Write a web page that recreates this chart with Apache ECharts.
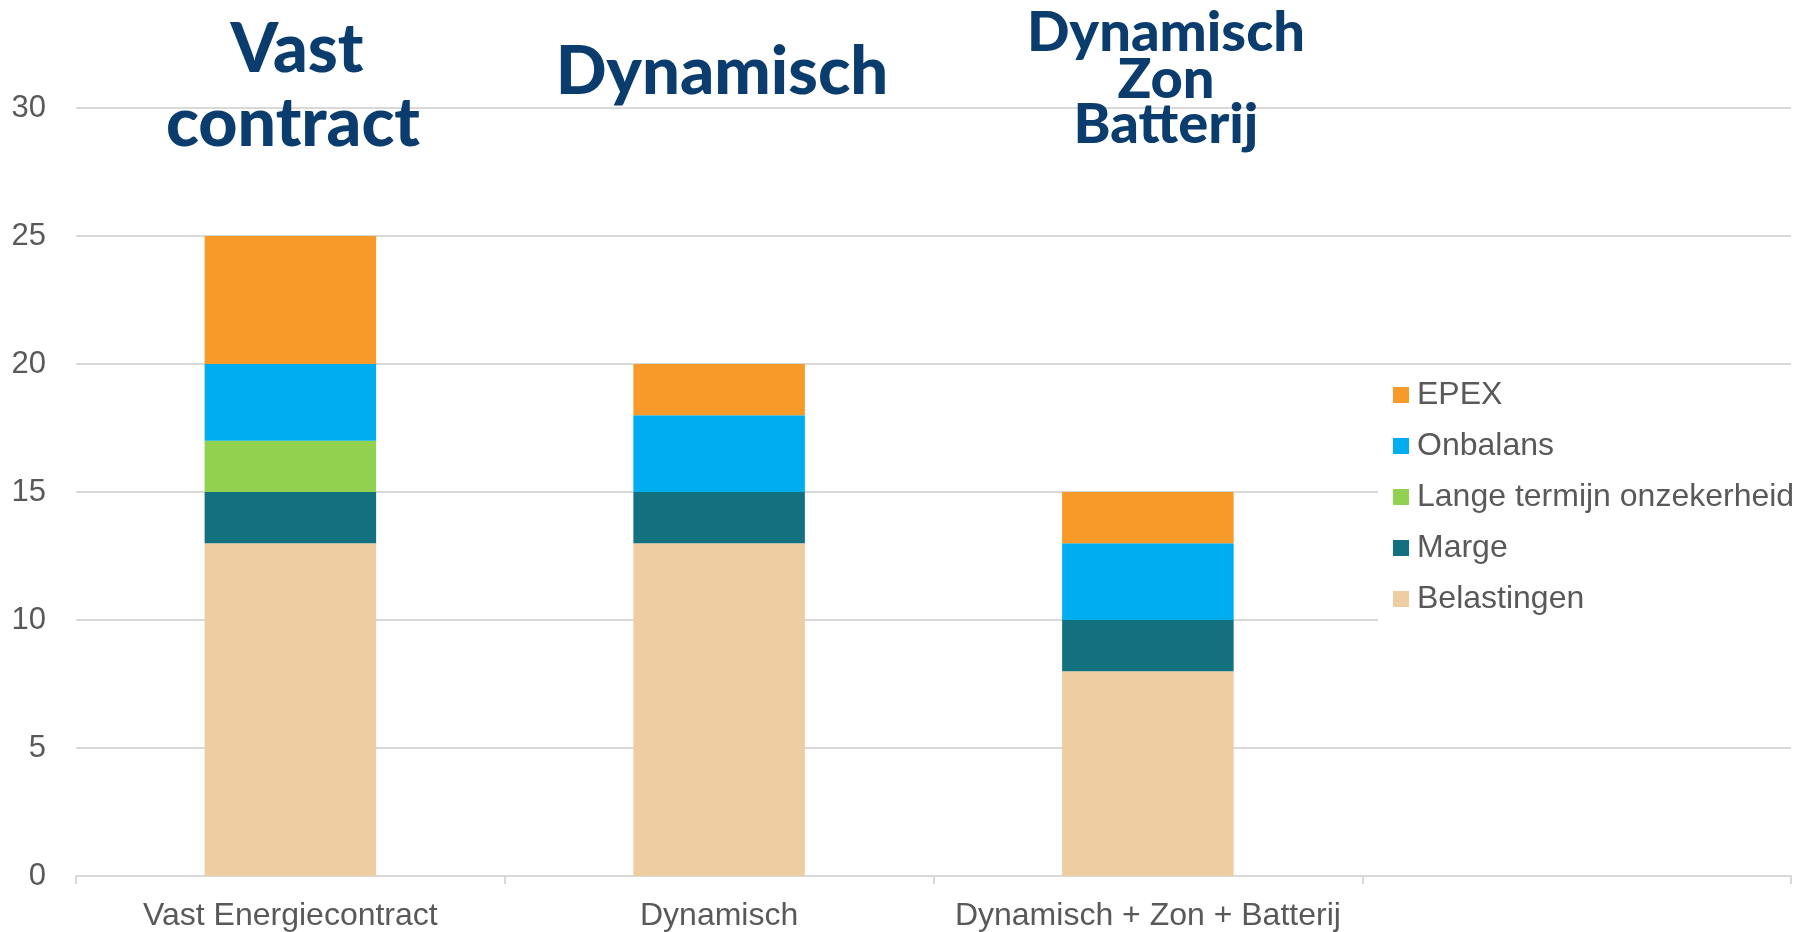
<!DOCTYPE html>
<html>
<head>
<meta charset="utf-8">
<title>Energiecontract vergelijking</title>
<script src="https://cdn.jsdelivr.net/npm/echarts@6/dist/echarts.min.js"></script>
<style>
    html, body { margin: 0; padding: 0; background: #fff; }
    #main { width: 1798px; height: 932px; }
</style>
</head>
<body>
<div id="main"></div>
<script>
    // categorieen (vierde kolom is leeg in het origineel)
    var categories = ['Vast Energiecontract', 'Dynamisch', 'Dynamisch + Zon + Batterij', ''];

    // waarden per component, van onder naar boven gestapeld
    var belastingen = [13, 13, 8, null];
    var marge = [2, 2, 2, null];
    var langeTermijn = [2, 0, 0, null];
    var onbalans = [3, 3, 3, null];
    var epex = [5, 2, 2, null];

    var legendOrder = ['EPEX', 'Onbalans', 'Lange termijn onzekerheid', 'Marge', 'Belastingen'];
    var yTicks = [0, 5, 10, 15, 20, 25, 30];

    var labelColor = '#595959';
    var titleColor = '#0a3d6e';
    var titleFont = '"Lato", "Open Sans", sans-serif';

    var myChart = echarts.init(document.getElementById('main'));

    function bar(name, data, color) {
        return {
            name: name,
            type: 'bar',
            stack: 'totaal',
            data: data,
            barCategoryGap: '60%',
            itemStyle: { color: color },
            emphasis: { disabled: true }
        };
    }

    function bigText(text, x, y, size) {
        return {
            type: 'text',
            x: x,
            y: y,
            z: 10,
            style: {
                text: text,
                fill: titleColor,
                font: '900 ' + size + 'px ' + titleFont,
                textAlign: 'center',
                textVerticalAlign: 'middle'
            }
        };
    }

    var option = {
        animation: false,
        backgroundColor: '#fff',
        textStyle: { fontFamily: '"Liberation Sans", Arial, sans-serif' },
        grid: { left: 76, right: 7, top: 108, bottom: 54, containLabel: false },
        legend: {
            orient: 'vertical',
            left: 1378,
            top: 372,
            padding: [5, 10, 10, 15],
            backgroundColor: '#fff',
            itemWidth: 16,
            itemHeight: 16,
            itemGap: 15,
            icon: 'rect',
            data: legendOrder,
            textStyle: { fontSize: 32, color: labelColor, lineHeight: 36, padding: [0, 0, 0, 3] }
        },
        xAxis: {
            type: 'category',
            data: categories,
            axisLine: { lineStyle: { color: '#d9d9d9', width: 2 } },
            axisTick: { show: true, length: 8, lineStyle: { color: '#d9d9d9', width: 2 } },
            axisLabel: { fontSize: 32, color: labelColor, margin: 24, interval: 0 }
        },
        yAxis: {
            type: 'value',
            min: yTicks[0],
            max: yTicks[yTicks.length - 1],
            interval: 5,
            axisLine: { show: false },
            axisTick: { show: false },
            axisLabel: { fontSize: 31, color: labelColor, margin: 30, padding: [6, 0, 0, 0] },
            splitLine: { lineStyle: { color: '#d9d9d9', width: 2 } }
        },
        series: [
            bar('Belastingen', belastingen, '#eecda0'),
            bar('Marge', marge, '#12707f'),
            bar('Lange termijn onzekerheid', langeTermijn, '#92d050'),
            bar('Onbalans', onbalans, '#00aeef'),
            bar('EPEX', epex, '#f79a2a')
        ],
        graphic: [
            bigText('Vast', 297, 50, 68),
            bigText('contract', 293, 124, 68),
            bigText('Dynamisch', 722, 72, 67),
            bigText('Dynamisch', 1166, 33, 56),
            bigText('Zon', 1166, 80, 56),
            bigText('Batterij', 1166, 125, 56)
        ]
    };

    myChart.setOption(option);
</script>
</body>
</html>
